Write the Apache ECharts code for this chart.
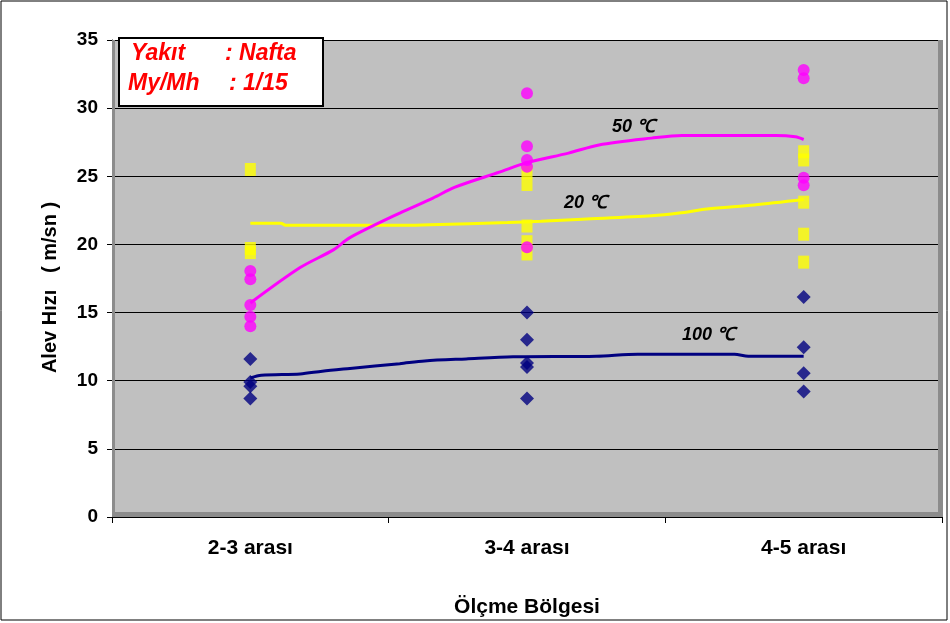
<!DOCTYPE html>
<html>
<head>
<meta charset="utf-8">
<script src="https://cdn.jsdelivr.net/npm/echarts@6/dist/echarts.min.js"></script>
<style>
html,body{margin:0;padding:0;background:#fff;}
#container{width:950px;height:623px;}
</style>
</head>
<body>
<div id="container"></div>
<script>
// kategoriler ve ölçümler
var bolgeler = ['2-3 arası', '3-4 arası', '4-5 arası'];
var yTicks = [0, 5, 10, 15, 20, 25, 30, 35];

// ölçüm noktaları: [bölge indeksi, hız]
var olcum20 = [[0, 25.5], [0, 19.7], [0, 19.4],
	[1, 25.3], [1, 24.4], [1, 21.35], [1, 20.2], [1, 19.3],
	[2, 26.8], [2, 26.2], [2, 23.1], [2, 20.75], [2, 18.7]];
var olcum50 = [[0, 18.05], [0, 17.45], [0, 15.55], [0, 14.7], [0, 14.0],
	[1, 31.1], [1, 27.2], [1, 26.2], [1, 25.7], [1, 19.8],
	[2, 32.8], [2, 32.2], [2, 24.9], [2, 24.35]];
var olcum100 = [[0, 11.6], [0, 9.9], [0, 9.6], [0, 8.7],
	[1, 15.0], [1, 13.0], [1, 11.3], [1, 11.0], [1, 8.7],
	[2, 16.15], [2, 12.45], [2, 10.55], [2, 9.2]];

// eğilim çizgileri
var egilim50X = [0, 0.18, 0.30, 0.36, 0.54, 0.66, 0.74, 0.90, 1.0, 1.15, 1.26, 1.45, 1.56, 1.90, 1.97, 2.0];
var egilim50Y = [15.7, 18.3, 19.6, 20.5, 22.3, 23.4, 24.2, 25.3, 26.0, 26.7, 27.3, 27.8, 28.0, 28.0, 27.9, 27.7];
var egilim20X = [0, 0.11, 0.13, 0.55, 0.65, 0.93, 1.05, 1.2, 1.45, 1.55, 1.65, 1.82, 2.0];
var egilim20Y = [21.55, 21.55, 21.4, 21.4, 21.45, 21.6, 21.7, 21.85, 22.1, 22.3, 22.6, 22.9, 23.3];
var egilim100X = [0, 0.04, 0.18, 0.26, 0.36, 0.54, 0.63, 0.78, 0.95, 1.25, 1.40, 1.75, 1.80, 2.0];
var egilim100Y = [10.2, 10.4, 10.5, 10.7, 10.9, 11.25, 11.45, 11.6, 11.75, 11.8, 11.95, 11.95, 11.8, 11.8];

function zip(xs, ys) {
	var out = [];
	for (var i = 0; i < xs.length; i++) {
		out.push([xs[i], ys[i]]);
	}
	return out;
}

var font = 'Arial, "Liberation Sans", sans-serif';
var dom = document.getElementById("container");
var myChart = echarts.init(dom);
var option = {
	animation: false,
	textStyle: { fontFamily: font },
	grid: {
		left: 112, right: 8, top: 40, bottom: 106,
		show: true, backgroundColor: '#C0C0C0', borderWidth: 0
	},
	xAxis: [{
		type: 'category',
		data: bolgeler,
		boundaryGap: true,
		name: 'Ölçme Bölgesi',
		nameLocation: 'middle',
		nameGap: 80,
		nameTextStyle: { fontSize: 21, fontWeight: 'bold', color: '#000', fontFamily: font },
		axisLine: { lineStyle: { color: '#000', width: 1 } },
		axisTick: { show: true, inside: false, length: 6, interval: 0, lineStyle: { color: '#000' } },
		axisLabel: { fontSize: 21, fontWeight: 'bold', color: '#000', margin: 21, fontFamily: font },
		splitLine: { show: false }
	}, {
		type: 'value',
		min: -0.5,
		max: 2.5,
		show: false
	}],
	yAxis: {
		type: 'value',
		min: yTicks[0],
		max: yTicks[yTicks.length - 1],
		interval: 5,
		name: 'Alev Hızı   ( m/sn )',
		nameLocation: 'middle',
		nameGap: 52,
		nameRotate: 90,
		nameTextStyle: { fontSize: 20, fontWeight: 'bold', color: '#000', fontFamily: font, padding: [0, 18, 0, 0] },
		axisLine: { show: true, onZero: false, lineStyle: { color: '#000', width: 1 } },
		axisTick: { show: true, inside: false, length: 5, lineStyle: { color: '#000' } },
		axisLabel: { fontSize: 19, fontWeight: 'bold', color: '#000', margin: 14, fontFamily: font },
		splitLine: { show: true, lineStyle: { color: '#000', width: 1 } }
	},
	series: [{
		name: '20 °C',
		type: 'scatter',
		symbol: 'rect',
		symbolSize: [11, 13],
		itemStyle: { color: '#FFFF00' },
		data: olcum20
	}, {
		name: '50 °C',
		type: 'scatter',
		symbol: 'circle',
		symbolSize: 12,
		itemStyle: { color: '#FF00FF' },
		data: olcum50
	}, {
		name: '100 °C',
		type: 'scatter',
		symbol: 'diamond',
		symbolSize: 14,
		itemStyle: { color: '#000080' },
		data: olcum100
	}, {
		type: 'line',
		xAxisIndex: 1,
		symbol: 'none',
		smooth: 0.3,
		lineStyle: { color: '#FFFF00', width: 3 },
		data: zip(egilim20X, egilim20Y)
	}, {
		type: 'line',
		xAxisIndex: 1,
		symbol: 'none',
		smooth: 0.3,
		lineStyle: { color: '#FF00FF', width: 3 },
		data: zip(egilim50X, egilim50Y)
	}, {
		type: 'line',
		xAxisIndex: 1,
		symbol: 'none',
		smooth: 0.3,
		lineStyle: { color: '#000080', width: 3 },
		data: zip(egilim100X, egilim100Y)
	}],
	graphic: [
		// dış çerçeve
		{ type: 'rect', z: 0, silent: true, shape: { x: 1, y: 1, width: 946, height: 619 },
			style: { fill: 'none', stroke: '#000', lineWidth: 1 } },
		// çizim alanı kenarları
		{ type: 'rect', z: 1, silent: true, shape: { x: 112, y: 512, width: 831, height: 5 },
			style: { fill: '#8C8C8C' } },
		{ type: 'rect', z: 1, silent: true, shape: { x: 938, y: 40, width: 5, height: 477 },
			style: { fill: '#8C8C8C' } },
		{ type: 'rect', z: 1, silent: true, shape: { x: 112, y: 40, width: 3, height: 477 },
			style: { fill: '#8C8C8C' } },
		// bilgi kutusu
		{ type: 'rect', z: 10, shape: { x: 119, y: 38, width: 204, height: 68 },
			style: { fill: '#fff', stroke: '#000', lineWidth: 2 } },
		{ type: 'text', z: 11, left: 131, top: 42,
			style: { text: 'Yakıt', fill: '#FF0000', font: 'italic bold 23px ' + font } },
		{ type: 'text', z: 11, left: 225, top: 42,
			style: { text: ': Nafta', fill: '#FF0000', font: 'italic bold 23px ' + font } },
		{ type: 'text', z: 11, left: 128, top: 72,
			style: { text: 'My/Mh', fill: '#FF0000', font: 'italic bold 23px ' + font } },
		{ type: 'text', z: 11, left: 229, top: 72,
			style: { text: ': 1/15', fill: '#FF0000', font: 'italic bold 23px ' + font } },
		// eğri etiketleri
		{ type: 'text', z: 11, left: 612, top: 118,
			style: { text: '50 ℃', fill: '#000', font: 'italic bold 18px ' + font } },
		{ type: 'text', z: 11, left: 564, top: 194,
			style: { text: '20 ℃', fill: '#000', font: 'italic bold 18px ' + font } },
		{ type: 'text', z: 11, left: 682, top: 326,
			style: { text: '100 ℃', fill: '#000', font: 'italic bold 18px ' + font } }
	]
};
myChart.setOption(option, true);
</script>
</body>
</html>
